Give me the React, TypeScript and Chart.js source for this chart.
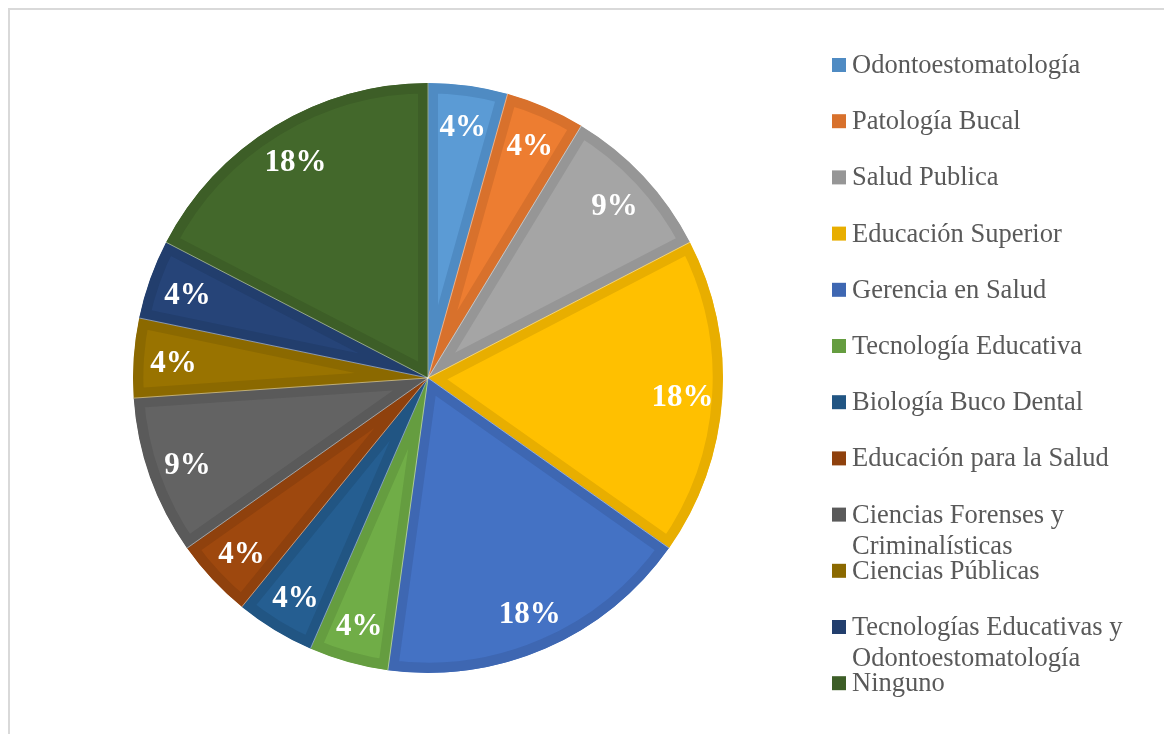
import React, { useEffect, useRef } from "react";
import { Chart, registerables } from "chart.js";

Chart.register(...registerables);

const categories = [
  "Odontoestomatología",
  "Patología Bucal",
  "Salud Publica",
  "Educación Superior",
  "Gerencia en Salud",
  "Tecnología Educativa",
  "Biología Buco Dental",
  "Educación para la Salud",
  "Ciencias Forenses y Criminalísticas",
  "Ciencias Públicas",
  "Tecnologías Educativas y Odontoestomatología",
  "Ninguno",
];

const counts = [1, 1, 2, 4, 4, 1, 1, 1, 2, 1, 1, 4];

const percentLabels = ["4%", "4%", "9%", "18%", "18%", "4%", "4%", "4%", "9%", "4%", "4%", "18%"];

const fillColors = [
  "#5B9BD5",
  "#ED7D31",
  "#A5A5A5",
  "#FFC000",
  "#4472C4",
  "#70AD47",
  "#255E91",
  "#9E480E",
  "#636363",
  "#997300",
  "#264478",
  "#43682B",
];

const borderColors = [
  "#4F8BC3",
  "#D8712C",
  "#969696",
  "#E8AE00",
  "#3E67B2",
  "#659D40",
  "#215583",
  "#8F410D",
  "#5A5A5A",
  "#8B6900",
  "#223E6D",
  "#3D5E27",
];

const SERIF = '"Liberation Serif", "Times New Roman", Times, serif';

const sliceLabelPlugin = {
  id: "sliceLabels",
  afterDatasetsDraw(chart: any) {
    const meta = chart.getDatasetMeta(0);
    const ctx = chart.ctx;
    ctx.save();
    ctx.strokeStyle = "rgba(255,255,255,0.45)";
    ctx.lineWidth = 1;
    meta.data.forEach((arc: any) => {
      const p = arc.getProps(["x", "y", "startAngle", "outerRadius"], true);
      ctx.beginPath();
      ctx.moveTo(p.x, p.y);
      ctx.lineTo(p.x + Math.cos(p.startAngle) * p.outerRadius, p.y + Math.sin(p.startAngle) * p.outerRadius);
      ctx.stroke();
    });
    ctx.font = `bold 31px ${SERIF}`;
    ctx.fillStyle = "#ffffff";
    ctx.textAlign = "center";
    ctx.textBaseline = "middle";
    meta.data.forEach((arc: any, i: number) => {
      const p = arc.getProps(["x", "y", "startAngle", "endAngle", "outerRadius"], true);
      const mid = (p.startAngle + p.endAngle) / 2;
      const r = p.outerRadius * 0.865;
      ctx.fillText(percentLabels[i], p.x + Math.cos(mid) * r, p.y + Math.sin(mid) * r + 3);
    });
    ctx.restore();
  },
};

function wrapText(ctx: CanvasRenderingContext2D, text: string, maxWidth: number): string[] {
  const words = text.split(" ");
  const lines: string[] = [];
  let cur = "";
  for (const w of words) {
    const test = cur ? cur + " " + w : w;
    if (ctx.measureText(test).width > maxWidth && cur) {
      lines.push(cur);
      cur = w;
    } else {
      cur = test;
    }
  }
  if (cur) lines.push(cur);
  return lines;
}

const legendPlugin = {
  id: "sideLegend",
  afterDraw(chart: any) {
    const ctx = chart.ctx;
    ctx.save();
    ctx.font = `26.5px ${SERIF}`;
    ctx.textAlign = "left";
    ctx.textBaseline = "middle";
    const markerX = 822;
    const textX = 842;
    const firstY = 55;
    const step = 56.2;
    const lineH = 31;
    categories.forEach((name, i) => {
      const cy = firstY + i * step;
      ctx.fillStyle = borderColors[i];
      ctx.fillRect(markerX, cy - 7, 14, 14);
      ctx.fillStyle = "#595959";
      const lines = wrapText(ctx, name, 290);
      lines.forEach((ln, k) => {
        ctx.fillText(ln, textX, cy + 1 + k * lineH);
      });
    });
    ctx.restore();
  },
};

export default function App() {
  const canvasRef = useRef<HTMLCanvasElement | null>(null);

  useEffect(() => {
    if (!canvasRef.current) return;
    const chart = new Chart(canvasRef.current, {
      type: "pie",
      data: {
        labels: categories,
        datasets: [
          {
            data: counts,
            backgroundColor: fillColors,
            borderColor: borderColors,
            borderWidth: 10,
            borderAlign: "inner",
            borderJoinStyle: "miter",
            hoverOffset: 0,
          } as any,
        ],
      },
      options: {
        animation: false,
        responsive: false,
        radius: 295,
        layout: { padding: { left: 0, right: 318, top: 12, bottom: 0 } },
        plugins: {
          legend: { display: false },
          tooltip: { enabled: false },
        },
        events: [],
      } as any,
      plugins: [sliceLabelPlugin, legendPlugin],
    });
    return () => chart.destroy();
  }, []);

  return (
    <div
      style={{
        borderLeft: "2px solid #d9d9d9",
        borderTop: "2px solid #d9d9d9",
        width: 1154,
        height: 724,
        background: "#ffffff",
      }}
    >
      <canvas ref={canvasRef} width={1154} height={724} style={{ display: "block", width: 1154, height: 724 }} />
    </div>
  );
}
